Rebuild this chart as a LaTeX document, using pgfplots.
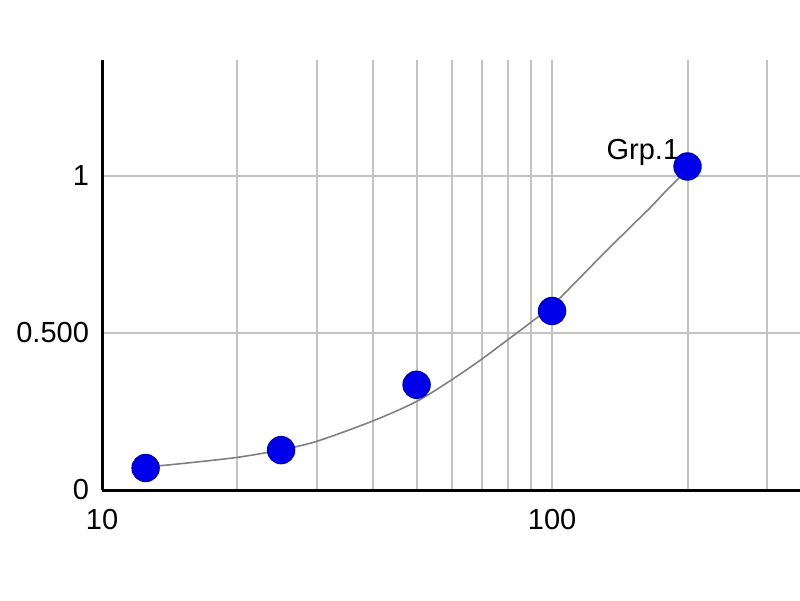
\documentclass[border=0pt]{standalone}
\usepackage{fontspec}
\setmainfont{Liberation Sans}
\usepackage{pgfplots}
\pgfplotsset{compat=1.18}
\definecolor{gridgray}{RGB}{195,195,195}
\definecolor{curvegray}{RGB}{128,128,128}
\definecolor{markblue}{RGB}{0,0,235}
\definecolor{markedge}{RGB}{0,0,170}
\begin{document}
\begin{tikzpicture}
\begin{axis}[
  name=ax,
  scale only axis,
  width=349pt, height=215pt,
  xmode=log, xmin=10, xmax=355.6,
  ymin=0, ymax=1.369,
  axis x line*=bottom, axis y line*=left,
  axis line style={-, line width=1.5pt, black},
  xtick={10,100}, xticklabels={10,100},
  minor xtick={20,30,40,50,60,70,80,90,200,300},
  ytick={0,0.5,1}, yticklabels={0,0.500,1},
  major tick length=0pt, minor tick length=0pt,
  xmajorgrids, xminorgrids, ymajorgrids,
  grid style={gridgray, line width=1pt},
  minor grid style={gridgray, line width=1pt},
  tick label style={font=\fontsize{14.5}{16}\selectfont},
  xticklabel style={yshift=-6pt},
  yticklabel style={xshift=-3pt},
  clip=false,
]
\addplot[curvegray, line width=0.8pt, smooth, no marks] coordinates {
  (12.5,0.073) (15,0.084) (20,0.104) (25,0.128) (30,0.155) (40,0.220) (50,0.282)
  (60,0.352) (70,0.418) (80,0.480) (90,0.535) (100,0.587) (115,0.674) (128,0.742)
  (150,0.840) (165,0.898) (180,0.955) (200,1.02)
};
\addplot[only marks, mark=*, mark size=6.8pt,
  mark options={fill=markblue, draw=markedge, line width=0.6pt}] coordinates {
  (12.5,0.070) (25,0.127) (50,0.335) (100,0.570) (200,1.030)
};
\node[anchor=east, inner sep=0pt, font=\fontsize{14.5}{16}\selectfont]
  at (axis cs:200,1.03) [xshift=-4pt, yshift=7pt] {Grp.1};
\end{axis}
\pgfresetboundingbox
\path[use as bounding box] ([shift={(-51pt,-55pt)}]ax.south west) rectangle ([shift={(0pt,30pt)}]ax.north east);
\end{tikzpicture}
\end{document}
